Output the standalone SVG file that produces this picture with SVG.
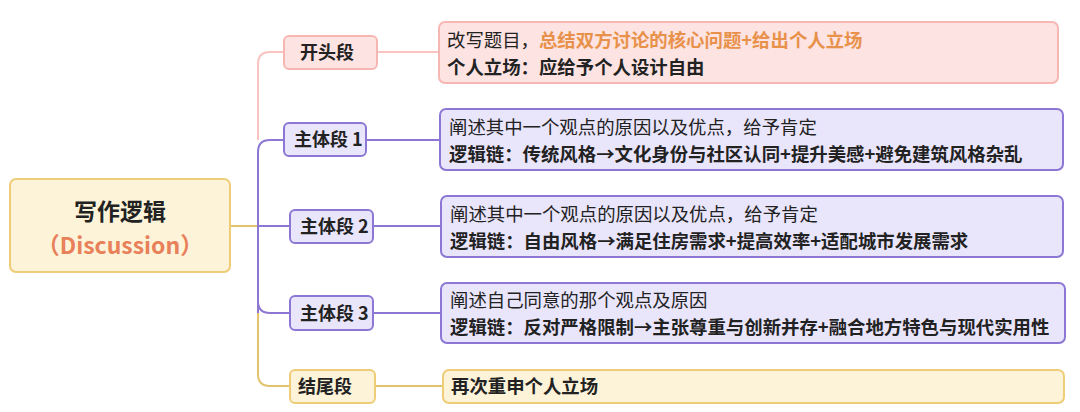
<svg xmlns="http://www.w3.org/2000/svg" width="1080" height="412" viewBox="0 0 1080 412">
<style>
text{font-family:"Noto Sans CJK SC","Noto Sans",sans-serif;font-size:18.4px;fill:#222}
.b{font-weight:bold}
.pk{fill:#fde3e1;stroke:#f6b7b3;stroke-width:2}
.pu{fill:#e9e5fb;stroke:#8c78d4;stroke-width:2}
.go{fill:#fdf3d8;stroke:#efcd78;stroke-width:2}
.l{fill:none;stroke-width:2}
.lr{stroke:#f8c3c0}.lp{stroke:#8c78d4}.lg{stroke:#e3c46e}
.n{font-size:18px;font-weight:bold}
</style>
<g id="connectors">
<path class="l lg" d="M230 226H258"/>
<path class="l lr" d="M258 140V64Q258 52 270 52H284M377 52H439"/>
<path class="l lp" d="M258 313V152Q258 140 270 140H284M258 226H290M258 301Q258 313 270 313H290M366 140H440M373 226H441M373 313H441"/>
<path class="l lg" d="M258 313V374Q258 386 270 386H290M375 386H443"/>
</g>
<g id="root"><rect x="10" y="179" width="220" height="93" rx="6" class="go"/>
<text x="120" y="220" text-anchor="middle" class="b" style="font-size:23px">写作逻辑</text>
<text x="120" y="254" text-anchor="middle" class="b" style="font-size:23px;fill:#e8805a">（Discussion）</text></g>
<g id="n1"><rect x="284" y="36" width="93" height="33" rx="5" class="pk"/><text x="300" y="59" class="n">开头段</text></g>
<g id="n2"><rect x="284" y="123" width="82" height="33" rx="5" class="pu"/><text x="294" y="146" class="n">主体段 1</text></g>
<g id="n3"><rect x="290" y="210" width="83" height="33" rx="5" class="pu"/><text x="300" y="233" class="n">主体段 2</text></g>
<g id="n4"><rect x="290" y="296" width="83" height="34" rx="5" class="pu"/><text x="300" y="320" class="n">主体段 3</text></g>
<g id="n5"><rect x="290" y="370" width="85" height="33" rx="5" class="go"/><text x="298" y="393" class="n">结尾段</text></g>
<g id="d1"><rect x="439" y="22" width="619" height="61" rx="6" class="pk"/>
<text x="447" y="47">改写题目，<tspan class="b" style="fill:#e8914a">总结双方讨论的核心问题+给出个人立场</tspan></text>
<text x="447" y="74" class="b">个人立场：应给予个人设计自由</text></g>
<g id="d2"><rect x="440" y="109" width="623" height="61" rx="6" class="pu"/>
<text x="449" y="134">阐述其中一个观点的原因以及优点，给予肯定</text>
<text x="449" y="161" class="b">逻辑链：传统风格→文化身份与社区认同+提升美感+避免建筑风格杂乱</text></g>
<g id="d3"><rect x="441" y="196" width="622" height="61" rx="6" class="pu"/>
<text x="450" y="221">阐述其中一个观点的原因以及优点，给予肯定</text>
<text x="450" y="248" class="b">逻辑链：自由风格→满足住房需求+提高效率+适配城市发展需求</text></g>
<g id="d4"><rect x="441" y="283" width="624" height="60" rx="6" class="pu"/>
<text x="450" y="307">阐述自己同意的那个观点及原因</text>
<text x="450" y="334" class="b">逻辑链：反对严格限制→主张尊重与创新并存+融合地方特色与现代实用性</text></g>
<g id="d5"><rect x="443" y="370" width="621" height="33" rx="6" class="go"/>
<text x="451" y="393" class="b">再次重申个人立场</text></g>
</svg>
